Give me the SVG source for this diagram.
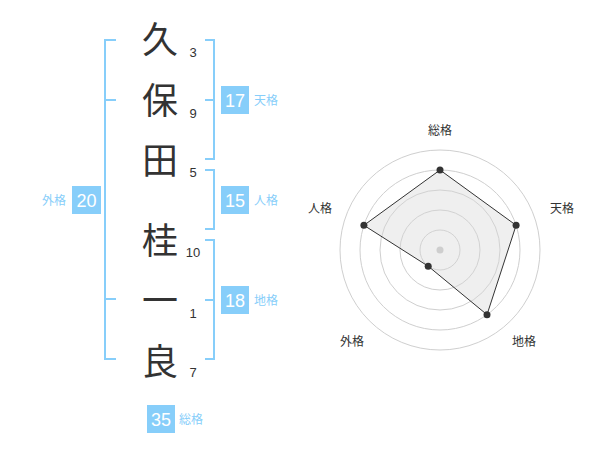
<svg xmlns="http://www.w3.org/2000/svg" width="600" height="470" viewBox="0 0 600 470">
<style>
.ch{font-family:"Noto Sans CJK JP","Noto Sans CJK SC",sans-serif;font-size:36px;fill:#333;text-anchor:middle}
.st{font-family:"Liberation Sans",Arial,sans-serif;font-size:13px;fill:#333;text-anchor:middle}
.br{fill:none;stroke:#87cefa;stroke-width:2}
.bx{fill:#87cefa}
.bn{font-family:"Liberation Sans",Arial,sans-serif;font-size:18px;fill:#fff;text-anchor:middle}
.bl{font-family:"Noto Sans CJK JP","Noto Sans CJK SC",sans-serif;font-size:12px;fill:#87cefa}
.rl{font-family:"Noto Sans CJK JP","Noto Sans CJK SC",sans-serif;font-size:12px;fill:#333;text-anchor:middle}
.ring{fill:none;stroke:#cfcfcf;stroke-width:1}
.pt{fill:#333}
</style>
<rect width="600" height="470" fill="#fff"/>
<g id="chars">
<g id="c1"><text class="ch" x="160" y="53">久</text><text class="st" x="193" y="57">3</text></g>
<g id="c2"><text class="ch" x="160" y="114">保</text><text class="st" x="193" y="118">9</text></g>
<g id="c3"><text class="ch" x="160" y="174">田</text><text class="st" x="193" y="177">5</text></g>
<g id="c4"><text class="ch" x="160" y="254">桂</text><text class="st" x="193" y="257">10</text></g>
<g id="c5"><text class="ch" x="160" y="314">一</text><text class="st" x="193" y="318">1</text></g>
<g id="c6"><text class="ch" x="160" y="375">良</text><text class="st" x="193" y="377">7</text></g>
</g>
<g id="connectors">
<path class="br" d="M116,40 H105 V359 H116 M105,100 H116 M105,299 H116"/>
<path class="br" d="M205,40 H214 V159 H205 M205,100 H214"/>
<path class="br" d="M205,170 H214 V229 H205"/>
<path class="br" d="M205,240 H214 V359 H205 M205,300 H214"/>
</g>
<g id="gaikaku"><rect class="bx" x="72" y="186" width="29" height="28"/><text class="bn" x="86.5" y="206.5">20</text><text class="bl" x="66" y="204.5" text-anchor="end">外格</text></g>
<g id="tenkaku"><rect class="bx" x="221" y="86" width="28" height="28"/><text class="bn" x="235" y="106.5">17</text><text class="bl" x="254" y="104.5">天格</text></g>
<g id="jinkaku"><rect class="bx" x="221" y="186" width="28" height="28"/><text class="bn" x="235" y="206.5">15</text><text class="bl" x="254" y="204.5">人格</text></g>
<g id="chikaku"><rect class="bx" x="221" y="286" width="28" height="28"/><text class="bn" x="235" y="306.5">18</text><text class="bl" x="254" y="304.5">地格</text></g>
<g id="soukaku"><rect class="bx" x="147" y="405" width="28" height="28"/><text class="bn" x="161" y="425.5">35</text><text class="bl" x="179" y="423.5">総格</text></g>
<g id="radar">
<circle class="ring" cx="440" cy="250" r="20"/>
<circle class="ring" cx="440" cy="250" r="40"/>
<circle class="ring" cx="440" cy="250" r="60"/>
<circle class="ring" cx="440" cy="250" r="80"/>
<circle class="ring" cx="440" cy="250" r="100"/>
<circle cx="440" cy="250" r="3.5" fill="#c8c8c8"/>
<polygon points="440,170 516.1,225.3 487,314.7 428.2,266.2 363.9,225.3" fill="#d8d8d8" fill-opacity="0.4" stroke="#333" stroke-width="1"/>
<circle class="pt" cx="440" cy="170" r="3.5"/>
<circle class="pt" cx="516.1" cy="225.3" r="3.5"/>
<circle class="pt" cx="487" cy="314.7" r="3.5"/>
<circle class="pt" cx="428.2" cy="266.2" r="3.5"/>
<circle class="pt" cx="363.9" cy="225.3" r="3.5"/>
<text class="rl" x="440" y="135">総格</text>
<text class="rl" x="562" y="213">天格</text>
<text class="rl" x="524" y="346">地格</text>
<text class="rl" x="352" y="346">外格</text>
<text class="rl" x="320" y="213">人格</text>
</g>
</svg>
